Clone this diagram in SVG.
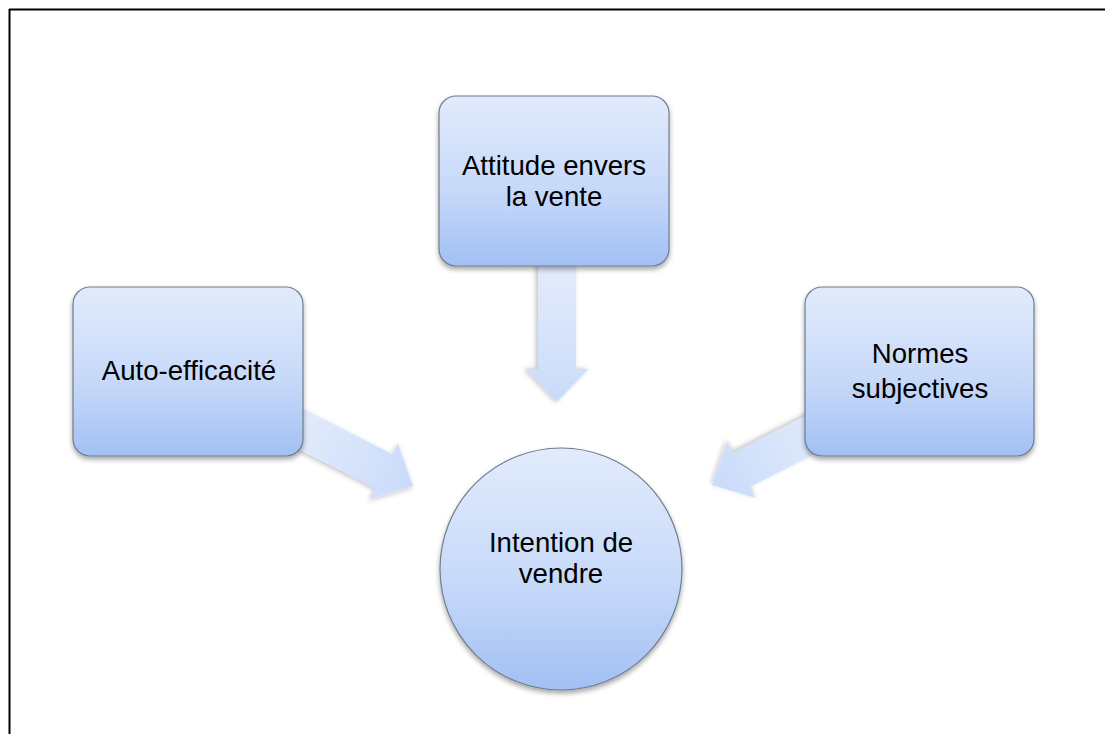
<svg xmlns="http://www.w3.org/2000/svg" width="1105" height="734" viewBox="0 0 1105 734">
<style>
.node{fill:url(#nodeGrad);stroke:#6f7d8e;stroke-width:1.2;filter:url(#shadow)}
.arrow{fill:url(#arrowGrad);filter:url(#ashadow)}
.lbl{font-family:"Liberation Sans",Arial,sans-serif;font-size:27.6px;fill:#000;text-anchor:middle}
</style>
<defs>
<linearGradient id="nodeGrad" x1="0" y1="0" x2="0" y2="1">
<stop offset="0" stop-color="#e2ebfc"/>
<stop offset="0.55" stop-color="#c7d9f9"/>
<stop offset="1" stop-color="#a2c0f4"/>
</linearGradient>
<linearGradient id="arrowGrad" x1="0" y1="0" x2="1" y2="0">
<stop offset="0" stop-color="#e4ecfc"/>
<stop offset="1" stop-color="#c9dbfa"/>
</linearGradient>
<filter id="shadow" x="-10%" y="-10%" width="120%" height="125%">
<feDropShadow dx="0" dy="3" stdDeviation="2.5" flood-color="#000" flood-opacity="0.35"/>
</filter>
<filter id="ashadow" x="-20%" y="-20%" width="140%" height="140%">
<feDropShadow dx="0" dy="2" stdDeviation="2.5" flood-color="#000" flood-opacity="0.25"/>
</filter>
<path id="arr" d="M0,0 L-33,-31.5 L-33,-19 L-140,-19 L-140,19 L-33,19 L-33,31.5 Z"/>
</defs>
<rect x="0" y="0" width="1105" height="734" fill="#fff"/>
<g id="frame" stroke="#000" stroke-width="2" fill="none">
<line x1="9.5" y1="9" x2="9.5" y2="734"/>
<line x1="9" y1="9.5" x2="1105" y2="9.5"/>
</g>
<g id="connectors">
<use href="#arr" class="arrow" transform="translate(557,402) rotate(90)"/>
<use href="#arr" class="arrow" transform="translate(413,486) rotate(27)"/>
<use href="#arr" class="arrow" transform="translate(712,485) rotate(153)"/>
</g>
<g id="node-attitude">
<rect class="node" x="439" y="96" width="230" height="170" rx="17"/>
<text class="lbl" x="554" y="175">Attitude envers</text>
<text class="lbl" x="554" y="206">la vente</text>
</g>
<g id="node-auto">
<rect class="node" x="73" y="287" width="230" height="169" rx="17"/>
<text class="lbl" x="189" y="380">Auto-efficacité</text>
</g>
<g id="node-normes">
<rect class="node" x="805" y="287" width="229" height="169" rx="17"/>
<text class="lbl" x="920" y="363">Normes</text>
<text class="lbl" x="920" y="398">subjectives</text>
</g>
<g id="node-intention">
<circle class="node" cx="561" cy="569" r="121"/>
<text class="lbl" x="561" y="552">Intention de</text>
<text class="lbl" x="561" y="583">vendre</text>
</g>
</svg>
